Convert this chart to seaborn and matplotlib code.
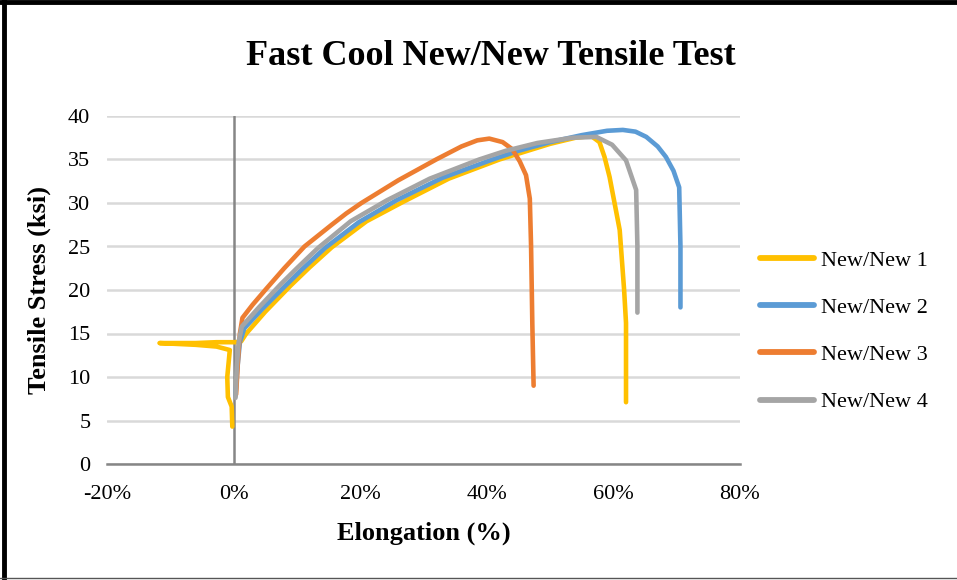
import numpy as np
import pandas as pd
import matplotlib
matplotlib.use("Agg")
import matplotlib.pyplot as plt
import seaborn as sns
from matplotlib.lines import Line2D

# ---- data (elongation in %, stress in ksi) ----
series_names = ["New/New 1", "New/New 2", "New/New 3", "New/New 4"]
series_colors = ["#FFC000", "#5B9BD5", "#ED7D31", "#A5A5A5"]

x1 = [-0.2, -0.3, -0.9, -1.0, -0.7, -0.6, -2.7, -6.0, -11.7, -6.0, -2.7, 0.3,
      1.2, 2.0, 5.0, 9.0, 12.0, 15.5, 21.0, 26.7, 34.0, 42.0, 46.0, 50.0, 54.0,
      56.5, 57.8, 58.6, 59.4, 61.0, 61.7, 62.0, 62.0]
y1 = [4.3, 6.6, 7.7, 10.0, 12.3, 13.1, 13.5, 13.7, 13.9, 13.9, 14.0, 14.0,
      14.1, 15.0, 17.5, 20.5, 22.6, 24.9, 27.9, 30.1, 32.8, 35.0, 35.9, 36.8, 37.5,
      37.7, 37.0, 35.3, 33.0, 26.9, 20.0, 16.2, 7.1]

x2 = [0.3, 0.6, 1.0, 1.7, 4.5, 8.2, 11.0, 14.4, 19.8, 25.7, 33.0, 40.9, 45.0, 50.0,
      55.0, 59.0, 61.5, 63.5, 65.2, 67.0, 68.3, 69.5, 70.4, 70.6, 70.6]
y2 = [7.8, 11.0, 14.0, 15.6, 17.8, 20.5, 22.5, 24.8, 27.8, 30.3, 32.9, 35.0, 36.0, 37.0,
      37.8, 38.3, 38.4, 38.2, 37.6, 36.5, 35.3, 33.7, 31.8, 25.0, 18.0]

x3 = [0.4, 0.7, 1.0, 1.4, 3.0, 5.0, 8.0, 11.2, 15.5, 17.8, 20.2, 26.0, 32.0, 36.0,
      38.5, 40.4, 42.5, 44.0, 45.2, 46.2, 46.8, 47.0, 47.2, 47.4]
y3 = [8.0, 12.0, 15.0, 16.8, 18.3, 20.0, 22.5, 25.0, 27.5, 28.8, 30.0, 32.6, 35.0, 36.5,
      37.2, 37.4, 37.0, 36.2, 34.8, 33.2, 30.5, 25.0, 16.0, 9.0]

x4 = [0.3, 0.5, 0.8, 1.3, 4.0, 7.5, 10.0, 13.3, 18.5, 24.2, 31.0, 38.8, 43.0, 48.0,
      53.5, 57.3, 59.8, 62.0, 63.6, 63.8, 63.8]
y4 = [7.6, 11.0, 14.0, 15.8, 18.0, 20.7, 22.5, 24.8, 27.9, 30.3, 32.8, 35.0, 36.0, 36.9,
      37.5, 37.6, 36.7, 34.9, 31.5, 25.0, 17.4]

x_ticks = [-20, 0, 20, 40, 60, 80]
x_tick_labels = ["-20%", "0%", "20%", "40%", "60%", "80%"]
y_ticks = [0, 5, 10, 15, 20, 25, 30, 35, 40]

frames = []
for name, xs, ys in zip(series_names, [x1, x2, x3, x4], [y1, y2, y3, y4]):
    frames.append(pd.DataFrame({"Elongation": xs, "Stress": ys, "Series": name}))
df = pd.concat(frames, ignore_index=True)

# ---- style ----
sns.set_style("white")
plt.rcParams["font.family"] = ["Liberation Serif", "DejaVu Serif"]
plt.rcParams["text.color"] = "black"
plt.rcParams["axes.labelcolor"] = "black"

fig = plt.figure(figsize=(9.57, 5.80), dpi=100)
ax = fig.add_axes([0.1118, 0.2, 0.6614, 0.6])

sns.lineplot(data=df, x="Elongation", y="Stress", hue="Series",
             hue_order=series_names, palette=series_colors,
             units="Series", estimator=None, sort=False,
             linewidth=3.3, ax=ax, legend=False)

for ln in ax.get_lines():
    ln.set_solid_capstyle("round")
    ln.set_solid_joinstyle("round")

ax.set_xlim(-20, 80)
ax.set_ylim(0, 40)
ax.set_xticks(x_ticks)
ax.set_xticklabels(x_tick_labels)
ax.set_yticks(y_ticks)
ax.tick_params(axis="both", length=0, labelsize=16, colors="black")
ax.tick_params(axis="x", pad=15)
ax.tick_params(axis="y", pad=12)

ax.grid(axis="y", color="#D9D9D9", linewidth=1.8)
ax.grid(axis="x", visible=False)
ax.set_axisbelow(True)
for s in ["top", "right", "left"]:
    ax.spines[s].set_visible(False)
ax.spines["bottom"].set_color("#868686")
ax.spines["bottom"].set_linewidth(1.8)
ax.axvline(0, color="#868686", linewidth=1.8, zorder=1.5)

ax.set_xlabel("Elongation (%)", fontsize=19, fontweight="bold", labelpad=13)
ax.set_ylabel("Tensile Stress (ksi)", fontsize=19, fontweight="bold", labelpad=12)

fig.text(0.5125, 0.903, "Fast Cool New/New Tensile Test", fontsize=26,
         fontweight="bold", ha="center", va="center", color="black")

handles = [Line2D([0], [0], color=c, linewidth=4.2, solid_capstyle="round")
           for c in series_colors]
ax.legend(handles, series_names, loc="center left",
          bbox_to_anchor=(0.773, 0.429), bbox_transform=fig.transFigure,
          frameon=False, fontsize=16, handlelength=2.45, handletextpad=0.3,
          labelspacing=1.2)

# figure frame
fig.add_artist(Line2D([0, 1], [0.9965, 0.9965], transform=fig.transFigure,
                      color="black", linewidth=3.5))
fig.add_artist(Line2D([0.0045, 0.0045], [0, 1], transform=fig.transFigure,
                      color="black", linewidth=3.5))
fig.add_artist(Line2D([0, 1], [0.004, 0.004], transform=fig.transFigure,
                      color="#555555", linewidth=1.0))

fig.savefig("out.png", dpi=100, facecolor="white")
